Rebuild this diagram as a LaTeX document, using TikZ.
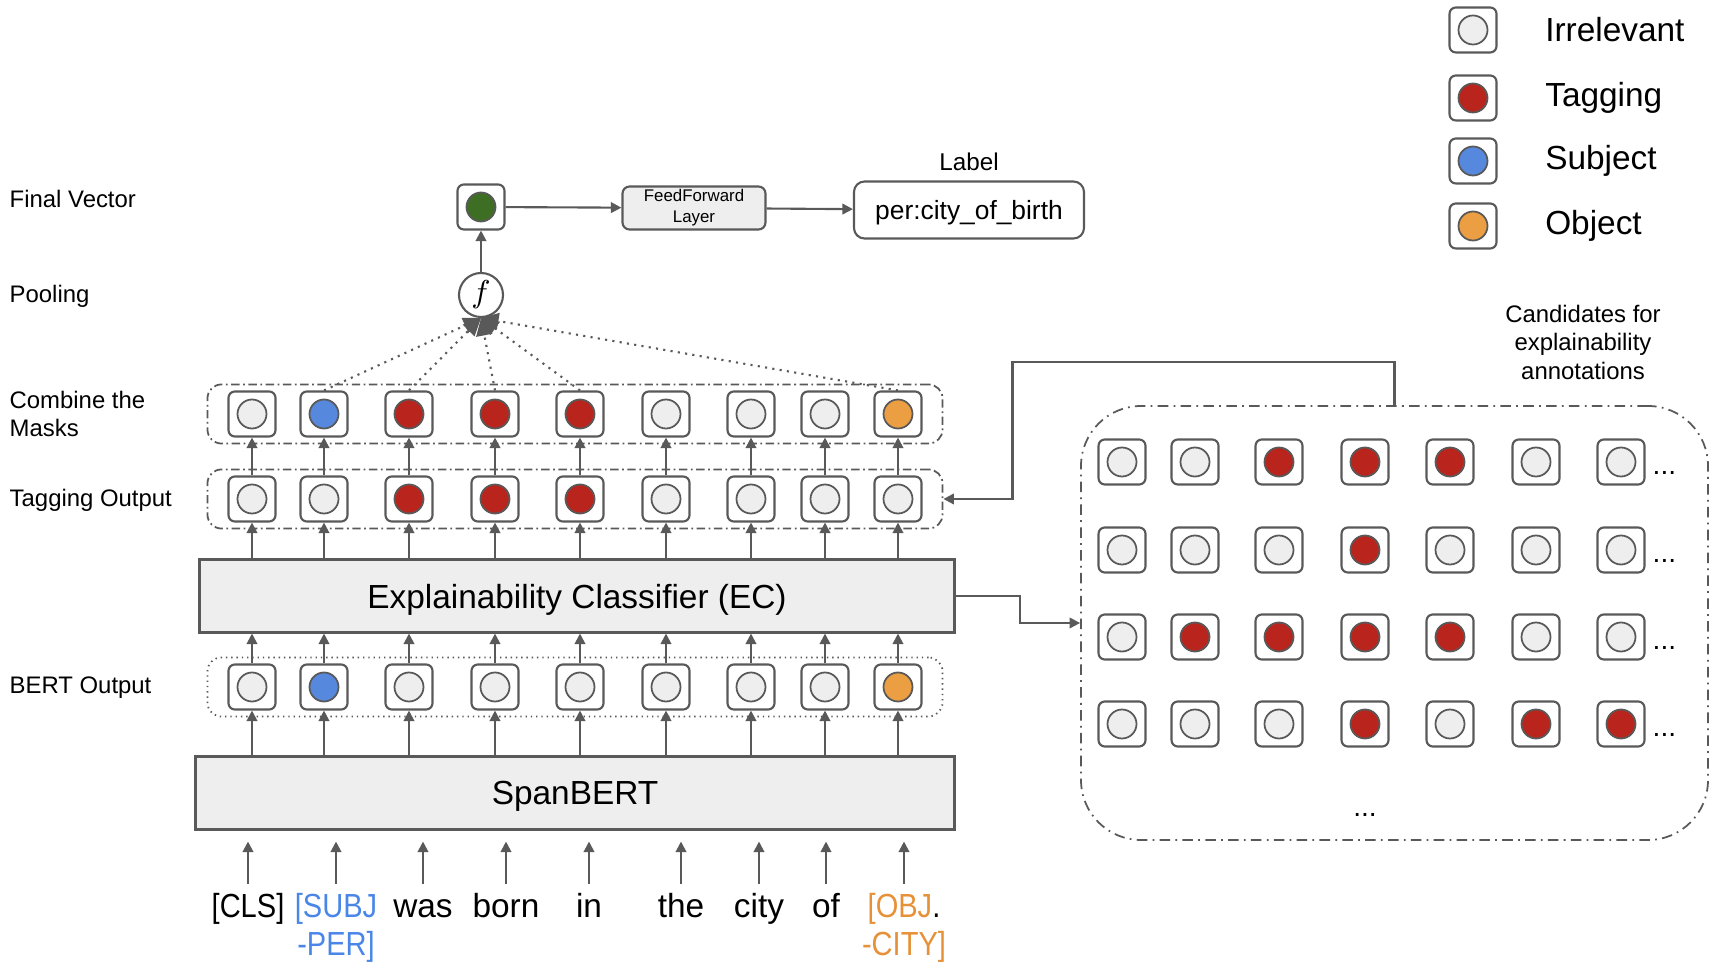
\documentclass[tikz,border=0pt]{standalone}
\usepackage{fontspec}
\usepackage{graphicx}
\setmainfont{Liberation Sans}
\usetikzlibrary{arrows.meta,positioning,fit}

\definecolor{linegray}{HTML}{595959}
\definecolor{irr}{HTML}{EEEEEE}
\definecolor{tagred}{RGB}{185,37,29}
\definecolor{subjblue}{RGB}{86,137,221}
\definecolor{objorange}{RGB}{236,159,66}
\definecolor{fvgreen}{RGB}{62,110,35}
\definecolor{subjtext}{RGB}{74,134,232}
\definecolor{objtext}{RGB}{230,145,56}

\newcommand\sqz[1]{\scalebox{0.87}[1]{#1}}

\begin{document}
\begin{tikzpicture}[
  font=\fontsize{6.8}{8.1}\selectfont,
  cell/.style={draw=linegray, line width=0.6pt, rounded corners=1.8pt, fill=white,
               minimum width=0.47cm, minimum height=0.45cm, inner sep=0pt,
               path picture={\filldraw[draw=linegray, line width=0.5pt, fill=#1]
                 (path picture bounding box.center) circle (0.145cm);}},
  cell/.default=irr,
  blk/.style={draw=linegray, line width=0.6pt, fill=irr, minimum height=0.73cm,
              text depth=0pt, font=\fontsize{9.5}{11.4}\selectfont},
  grp/.style={draw=linegray, line width=0.5pt, rounded corners=4pt, inner xsep=0.2cm,
              inner ysep=0.06cm, dash pattern=on 2.4pt off 1pt on 0.5pt off 1pt},
  lbl/.style={anchor=west, inner sep=0pt, align=left},
  big/.style={font=\fontsize{9.5}{11.4}\selectfont},
  tok/.style={anchor=north, inner xsep=0pt, inner ysep=1.5pt, align=center,
              font=\fontsize{9.5}{11}\selectfont},
  arr/.style={draw=linegray, line width=0.6pt, -{Triangle[length=3pt,width=3pt]}},
  dotarr/.style={draw=linegray, line width=0.6pt, dash pattern=on 0.6pt off 1.5pt,
                 -{Triangle[length=5pt,width=4.6pt]}}
]
\useasboundingbox (0,0) rectangle (17.2,-9.68);

% layer names
\node[lbl] (nFV) at (0.09,-1.99) {Final Vector};
\node[lbl] (nPO) at (0.09,-2.96) {Pooling};
\node[lbl] (nCM) at (0.09,-4.14) {Combine the\\Masks};
\node[lbl] (nTO) at (0.09,-5.00) {Tagging Output};
\node[lbl] (nBO) at (0.09,-6.88) {BERT Output};

% legend
\node[cell=irr] (lg1) at (14.73,-0.30) {};
\node[cell=tagred] (lg2) at (14.73,-0.98) {};
\node[cell=subjblue] (lg3) at (14.73,-1.61) {};
\node[cell=objorange] (lg4) at (14.73,-2.26) {};
\node[lbl, big, right=0.47cm of lg1] {Irrelevant};
\node[lbl, big, right=0.47cm of lg2] {Tagging};
\node[lbl, big, right=0.47cm of lg3] {Subject};
\node[lbl, big, right=0.47cm of lg4] {Object};

% encoder blocks
\node[blk, minimum width=7.55cm] (ec) at (5.77,-5.96) {Explainability Classifier (EC)};
\node[blk, minimum width=7.59cm] (span) at (5.75,-7.93) {SpanBERT};

% token columns: bert / tagging / combined
\foreach \x/\bc/\tc/\mc [count=\i] in {
    2.52/irr/irr/irr, 3.24/subjblue/irr/subjblue, 4.09/irr/tagred/tagred,
    4.95/irr/tagred/tagred, 5.80/irr/tagred/tagred, 6.66/irr/irr/irr,
    7.51/irr/irr/irr, 8.25/irr/irr/irr, 8.98/objorange/irr/objorange} {
  \node[cell=\bc] (bo\i) at (\x,-6.87) {};
  \node[cell=\tc] (to\i) at (\x,-4.99) {};
  \node[cell=\mc] (cm\i) at (\x,-4.14) {};
}
\node[grp, fit=(cm1)(cm9)] (cgrp) {};
\node[grp, fit=(to1)(to9)] (tgrp) {};
\node[grp, dash pattern=on 0.4pt off 1.1pt, fit=(bo1)(bo9)] (bgrp) {};

% input words
\node[tok] (w1) at (2.48,-8.84) {\strut\sqz{[CLS]}};
\node[tok, text=subjtext] (w2) at (3.36,-8.84) {\strut\sqz{[SUBJ}\\\sqz{-PER]}};
\node[tok] (w3) at (4.23,-8.84) {\strut was};
\node[tok] (w4) at (5.06,-8.84) {\strut born};
\node[tok] (w5) at (5.89,-8.84) {\strut in};
\node[tok] (w6) at (6.81,-8.84) {\strut the};
\node[tok] (w7) at (7.59,-8.84) {\strut city};
\node[tok] (w8) at (8.26,-8.84) {\strut of};
\node[tok, text=objtext] (w9) at (9.04,-8.84) {\strut\sqz{[OBJ\textcolor{black}{.}}\\\sqz{-CITY]}};

\foreach \i in {1,...,9} {
  \draw[arr] (w\i.north) -- ([yshift=-0.11cm]w\i.north |- span.south);
  \draw[arr] (bo\i.south |- span.north) -- (bo\i.south);
  \draw[arr] (bo\i.north) -- (bo\i.north |- ec.south);
  \draw[arr] (to\i.south |- ec.north) -- (to\i.south);
  \draw[arr] (to\i.north) -- (cm\i.south);
}

% pooling and classification head
\node[circle, draw=linegray, line width=0.6pt, fill=white, minimum size=0.44cm, inner sep=0pt,
      font=\fontsize{9.5}{11}\selectfont] (pool) at (4.81,-2.95) {$f$};
\foreach \i in {2,3,4,5,9}
  \draw[dotarr] (cm\i.north) -- (pool.south);
\node[cell=fvgreen] (fv) at (4.81,-2.07) {};
\node[draw=linegray, line width=0.6pt, fill=irr, rounded corners=2pt, minimum width=1.43cm,
      minimum height=0.43cm, inner sep=0pt, align=center,
      font=\fontsize{4.8}{5.9}\selectfont] (ffl) at (6.94,-2.08) {FeedForward\\Layer};
\node[draw=linegray, line width=0.6pt, rounded corners=3pt, minimum width=2.30cm,
      minimum height=0.57cm, text depth=0pt, font=\fontsize{7.5}{9}\selectfont] (lab) at (9.69,-2.10) {per:city\_of\_birth};
\node[above=0.5mm of lab, inner sep=1pt, font=\fontsize{6.9}{8}\selectfont] (labt) {Label};
\draw[arr] (pool) -- (fv);
\draw[arr] (fv) -- (ffl);
\draw[arr] (ffl) -- (lab);

% candidate annotations
\node[draw=linegray, line width=0.5pt, rounded corners=0.6cm, minimum width=6.27cm,
      minimum height=4.34cm, dash pattern=on 3pt off 1.5pt on 0.5pt off 1.5pt] (cand) at (13.945,-6.23) {};
\node[align=center] (candt) at (15.83,-3.42) {Candidates for\\explainability\\annotations};
\foreach \r/\y/\cols in {
    1/-4.62/{irr,irr,tagred,tagred,tagred,irr,irr},
    2/-5.50/{irr,irr,irr,tagred,irr,irr,irr},
    3/-6.37/{irr,tagred,tagred,tagred,tagred,irr,irr},
    4/-7.24/{irr,irr,irr,tagred,irr,tagred,tagred}} {
  \foreach \c [count=\k] in \cols {
    \pgfmathsetmacro\xx{{11.22,11.95,12.79,13.65,14.50,15.36,16.21}[\k-1]}
    \node[cell=\c] (ca\r\k) at (\xx,\y) {};
  }
  \node[anchor=base west, inner sep=0pt, font=\fontsize{8}{9}\selectfont] (dots\r) at (16.52,\y-0.13) {...};
}
\node[anchor=base, inner sep=0pt, font=\fontsize{8}{9}\selectfont] (dotsb) at (13.65,-8.17) {...};

\coordinate (bendT) at (10.125,-3.62);
\draw[arr] (cand.north) |- (bendT) |- (tgrp.east);
\draw[arr] (ec.east) -- ++(0.64,0) |- (cand.west);
\end{tikzpicture}
\end{document}
